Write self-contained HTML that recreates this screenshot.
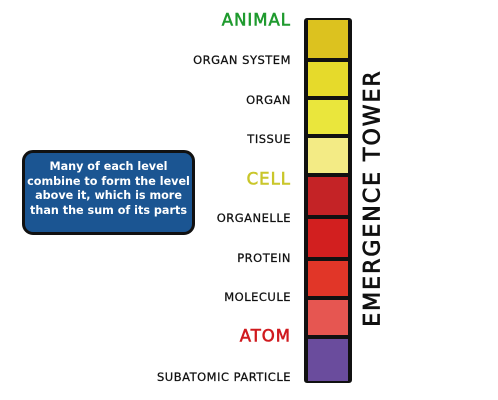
<!DOCTYPE html>
<html><head><meta charset="utf-8"><style>
body{margin:0;width:498px;height:400px;background:#fff;overflow:hidden;font-family:"DejaVu Sans","Liberation Sans",sans-serif;}
#c{position:absolute;left:0;top:0}
#note{position:absolute;left:22px;top:150px;width:167px;height:72px;background:#1b5592;border:3px solid #111;border-radius:11px;color:#fff;font-weight:bold;font-size:11.2px;line-height:14.6px;text-align:center;padding-top:7px;box-sizing:content-box;white-space:nowrap;letter-spacing:0px;}
</style></head><body>
<svg id="c" width="498" height="400"></svg>
<div id="note">Many of each level<br>combine to form the level<br>above it, which is more<br>than the sum of its parts</div>
<script>
const levels=["ANIMAL","ORGAN SYSTEM","ORGAN","TISSUE","CELL","ORGANELLE","PROTEIN","MOLECULE","ATOM","SUBATOMIC PARTICLE"];
const major=[true,false,false,false,true,false,false,false,true,false];
const majorColors=["#1f9a2e",null,null,null,"#c9c62a",null,null,null,"#d01a1f",null];
const blockColors=["#dcc21f","#e6da2b","#eae63c","#f3eb85","#c42326","#d21f1f","#e13628","#e65651","#6a4c9d"];
const blockEdges=[18,60,98,136,175,217,259,298,337,383];
const labelY=[20,60,100,139,179,218,258,297,336,377];
const NS="http://www.w3.org/2000/svg";
const svg=document.getElementById('c');
function mk(t,a){const e=document.createElementNS(NS,t);for(const k in a)e.setAttribute(k,a[k]);svg.appendChild(e);return e;}
const bg=mk('rect',{x:304,y:blockEdges[0],width:48,height:blockEdges[blockEdges.length-1]-blockEdges[0],fill:'#111',rx:3});


blockColors.forEach((col,i)=>{
  const r=mk('rect',{x:308,y:blockEdges[i]+2,width:40,height:blockEdges[i+1]-blockEdges[i]-4,fill:col});
  
  
});
levels.forEach((l,i)=>{
  const t=mk('text',{x:291,y:labelY[i],'text-anchor':'end','dominant-baseline':'central','font-family':'"DejaVu Sans","Liberation Sans",sans-serif','font-size':major[i]?16.5:11.5,'fill':major[i]?majorColors[i]:'#111','letter-spacing':major[i]?1:0.5,'stroke':major[i]?majorColors[i]:'#111','stroke-width':major[i]?0.6:0.25});
  t.textContent=l;
  
  
});
const tt=mk('text',{x:0,y:0,transform:'translate(373,198) rotate(-90)','text-anchor':'middle','dominant-baseline':'central','font-family':'"DejaVu Sans","Liberation Sans",sans-serif','font-size':22,'fill':'#111','stroke':'#111','stroke-width':0.8,'letter-spacing':2});
tt.textContent="EMERGENCE TOWER";


</script>
</body></html>
